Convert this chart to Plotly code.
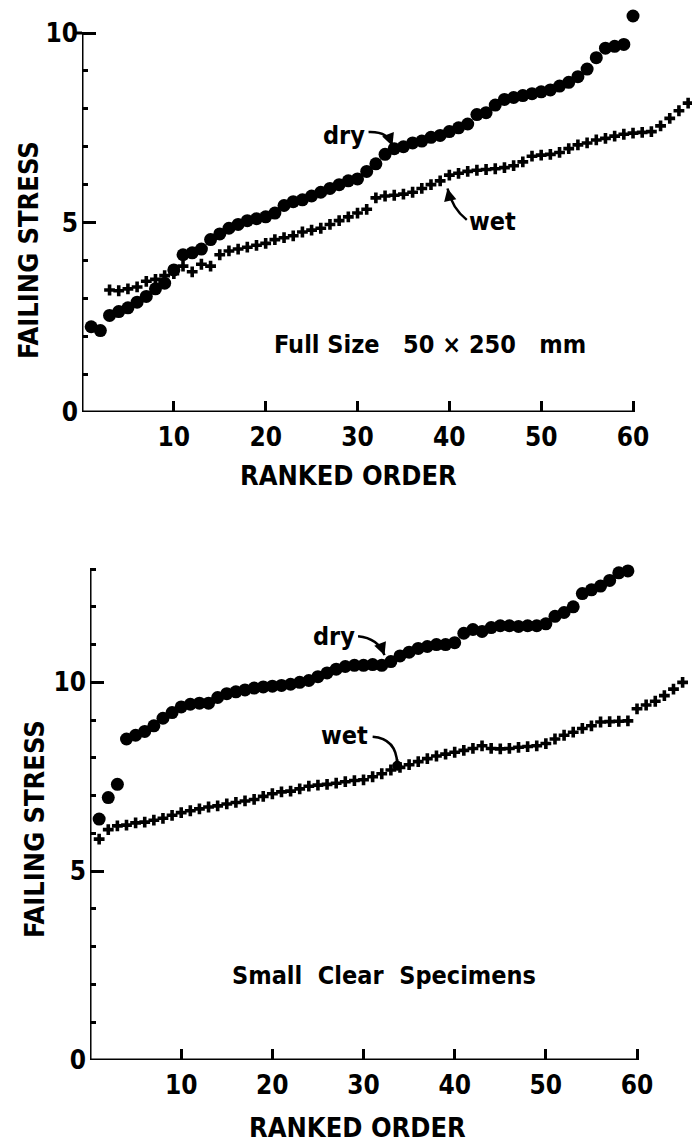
import plotly.graph_objects as go

# ---- Full size 50 x 250 mm specimens ----
rank_full_dry = list(range(1, 61))
stress_full_dry = [
    2.25, 2.15, 2.55, 2.65, 2.75, 2.90, 3.05, 3.25, 3.40, 3.75,
    4.15, 4.20, 4.30, 4.55, 4.70, 4.85, 4.95, 5.05, 5.10, 5.15,
    5.25, 5.45, 5.55, 5.60, 5.70, 5.80, 5.90, 6.00, 6.10, 6.15,
    6.35, 6.55, 6.80, 6.95, 7.00, 7.10, 7.15, 7.25, 7.30, 7.40,
    7.50, 7.60, 7.85, 7.90, 8.10, 8.25, 8.30, 8.35, 8.40, 8.45,
    8.50, 8.60, 8.70, 8.85, 9.05, 9.35, 9.60, 9.65, 9.70, 10.45,
]
rank_full_wet = list(range(3, 67))
stress_full_wet = [
    3.22, 3.20, 3.25, 3.30, 3.45, 3.50, 3.60, 3.65, 3.85, 3.70,
    3.90, 3.85, 4.15, 4.25, 4.30, 4.35, 4.40, 4.45, 4.55, 4.60,
    4.65, 4.75, 4.80, 4.85, 4.95, 5.05, 5.15, 5.25, 5.35, 5.65,
    5.70, 5.72, 5.75, 5.80, 5.90, 6.00, 6.10, 6.25, 6.30, 6.35,
    6.38, 6.40, 6.42, 6.45, 6.50, 6.60, 6.75, 6.78, 6.80, 6.85,
    6.95, 7.05, 7.10, 7.18, 7.22, 7.28, 7.33, 7.36, 7.38, 7.40,
    7.55, 7.75, 7.95, 8.15,
]

# ---- Small clear specimens ----
rank_small_dry = list(range(1, 60))
stress_small_dry = [
    6.38, 6.95, 7.30, 8.50, 8.60, 8.70, 8.85, 9.05, 9.20, 9.35,
    9.42, 9.45, 9.45, 9.60, 9.70, 9.75, 9.80, 9.85, 9.88, 9.90,
    9.92, 9.95, 10.00, 10.05, 10.15, 10.25, 10.35, 10.42, 10.45, 10.45,
    10.47, 10.45, 10.55, 10.70, 10.80, 10.90, 10.95, 11.00, 11.00, 11.05,
    11.30, 11.40, 11.35, 11.45, 11.50, 11.50, 11.48, 11.50, 11.50, 11.55,
    11.75, 11.85, 12.00, 12.35, 12.45, 12.55, 12.70, 12.90, 12.95,
]
rank_small_wet = list(range(1, 66))
stress_small_wet = [
    5.85, 6.10, 6.20, 6.22, 6.28, 6.30, 6.35, 6.40, 6.48, 6.55,
    6.60, 6.65, 6.70, 6.73, 6.78, 6.82, 6.86, 6.90, 6.98, 7.05,
    7.10, 7.12, 7.18, 7.25, 7.28, 7.30, 7.33, 7.37, 7.40, 7.42,
    7.50, 7.58, 7.68, 7.75, 7.82, 7.90, 7.98, 8.05, 8.10, 8.15,
    8.20, 8.25, 8.32, 8.25, 8.24, 8.25, 8.28, 8.30, 8.32, 8.38,
    8.50, 8.60, 8.68, 8.78, 8.85, 8.95, 8.96, 8.97, 8.98, 9.30,
    9.40, 9.50, 9.65, 9.82, 10.00,
]

x_ticks = [10, 20, 30, 40, 50, 60]
y_ticks = [0, 5, 10]
x_axis_end = 60
full_axis_top = 10
small_axis_top = 13

FONT = "DejaVu Sans Condensed"
INK = "black"

fig = go.Figure()


def add_panel(fig, xs_dry, ys_dry, xs_wet, ys_wet, xa, ya):
    fig.add_trace(go.Scatter(
        x=xs_wet, y=ys_wet, mode="markers", name="wet",
        marker=dict(symbol="cross", size=9, color=INK, line=dict(width=0)),
        cliponaxis=False, xaxis=xa, yaxis=ya, showlegend=False,
    ))
    fig.add_trace(go.Scatter(
        x=xs_dry, y=ys_dry, mode="markers", name="dry",
        marker=dict(symbol="circle", size=13, color=INK, line=dict(width=0)),
        cliponaxis=False, xaxis=xa, yaxis=ya, showlegend=False,
    ))


add_panel(fig, rank_full_dry, stress_full_dry, rank_full_wet, stress_full_wet, "x", "y")
add_panel(fig, rank_small_dry, stress_small_dry, rank_small_wet, stress_small_wet, "x2", "y2")

tickfont = dict(family=FONT, size=26, color=INK, weight="bold")

# axis lines are drawn as shapes so that the plotted points may run past them
xbase = dict(
    tickvals=x_ticks, showline=False,
    ticks="inside", ticklen=11, tickwidth=3, tickcolor=INK,
    showgrid=False, zeroline=False, tickfont=tickfont, ticklabelstandoff=7,
    automargin=False, fixedrange=True,
)
ybase = dict(
    tickvals=y_ticks, showline=False,
    ticks="inside", ticklen=14, tickwidth=3, tickcolor=INK,
    showgrid=False, zeroline=False, tickfont=tickfont, ticklabelstandoff=3,
    automargin=False, fixedrange=True,
)
minor = dict(tick0=0, dtick=1, ticks="inside", ticklen=6, tickwidth=3, tickcolor=INK)

fig.update_layout(
    width=692, height=1142,
    margin=dict(l=0, r=0, t=0, b=0, autoexpand=False),
    paper_bgcolor="white", plot_bgcolor="white",
    xaxis=dict(xbase, domain=[0.1185, 0.9997], range=[0, 66.4], anchor="y"),
    yaxis=dict(ybase, domain=[0.6392, 0.9976], range=[0, 10.8], anchor="x",
               minor=dict(minor, tickvals=[1, 2, 3, 4, 6, 7, 8, 9])),
    xaxis2=dict(xbase, domain=[0.1301, 0.9996], range=[0, 66.0], anchor="y2"),
    yaxis2=dict(ybase, domain=[0.0718, 0.5083], range=[0, 13.2], anchor="x2",
                minor=dict(minor, tickvals=[1, 2, 3, 4, 6, 7, 8, 9, 11, 12, 13])),
)

label_font = dict(family=FONT, size=27, color=INK, weight="bold")
note_font = dict(family=FONT, size=25, color=INK, weight="bold")
NB = "\u00a0"

annotations = [
    # axis titles
    dict(text="RANKED ORDER", x=0.503, y=1 - 475 / 1142, xref="paper", yref="paper",
         xanchor="center", yanchor="middle", showarrow=False, font=label_font),
    dict(text="FAILING STRESS", x=29 / 692, y=1 - 250 / 1142, xref="paper", yref="paper",
         xanchor="center", yanchor="middle", textangle=-90, showarrow=False, font=label_font),
    dict(text="RANKED ORDER", x=0.517, y=1 - 1127 / 1142, xref="paper", yref="paper",
         xanchor="center", yanchor="middle", showarrow=False, font=label_font),
    dict(text="FAILING STRESS", x=34 / 692, y=1 - 829 / 1142, xref="paper", yref="paper",
         xanchor="center", yanchor="middle", textangle=-90, showarrow=False, font=label_font),
    # panel notes
    dict(text=f"Full Size{NB}{NB} 50 × 250{NB}{NB} mm", x=37.9, y=1.77, xref="x", yref="y",
         showarrow=False, font=note_font),
    dict(text=f"Small{NB} Clear{NB} Specimens", x=32.3, y=2.23, xref="x2", yref="y2",
         showarrow=False, font=note_font),
    # series labels
    dict(text="dry", x=28.5, y=7.30, xref="x", yref="y", showarrow=False, font=note_font),
    dict(text="wet", x=44.7, y=5.02, xref="x", yref="y", showarrow=False, font=note_font),
    dict(text="dry", x=26.8, y=11.22, xref="x2", yref="y2", showarrow=False, font=note_font),
    dict(text="wet", x=27.9, y=8.59, xref="x2", yref="y2", showarrow=False, font=note_font),
    # arrow heads at the end of the leader curves
    dict(text="", x=33.8, y=7.02, ax=-3, ay=-8, xref="x", yref="y", showarrow=True,
         arrowhead=2, arrowsize=1, arrowwidth=2.5, arrowcolor=INK),
    dict(text="", x=39.8, y=5.90, ax=2, ay=9, xref="x", yref="y", showarrow=True,
         arrowhead=2, arrowsize=1, arrowwidth=2.5, arrowcolor=INK),
    dict(text="", x=32.3, y=10.72, ax=-3, ay=-8, xref="x2", yref="y2", showarrow=True,
         arrowhead=2, arrowsize=1, arrowwidth=2.5, arrowcolor=INK),
    dict(text="", x=33.7, y=7.79, ax=0, ay=-8, xref="x2", yref="y2", showarrow=True,
         arrowhead=6, arrowsize=1, arrowwidth=2.5, arrowcolor=INK),
]
fig.update_layout(annotations=annotations)

axis_line = dict(color=INK, width=3)
leader = dict(color=INK, width=2.5)
shapes = [
    # axis lines
    dict(type="line", xref="x", yref="y", x0=0, x1=x_axis_end, y0=0, y1=0, line=axis_line),
    dict(type="line", xref="x", yref="y", x0=0, x1=0, y0=0, y1=full_axis_top, line=axis_line),
    dict(type="line", xref="x2", yref="y2", x0=0, x1=x_axis_end, y0=0, y1=0, line=axis_line),
    dict(type="line", xref="x2", yref="y2", x0=0, x1=0, y0=0, y1=small_axis_top, line=axis_line),
    # outward stub of the top tick on the upper stress axis
    dict(type="line", xref="paper", yref="y", x0=75 / 692, x1=0.1185, y0=full_axis_top,
         y1=full_axis_top, line=axis_line),
    # leader curves from the series labels to the data
    dict(type="path", xref="x", yref="y", line=leader,
         path="M 31.2,7.39 Q 33.4,7.41 33.8,7.02"),
    dict(type="path", xref="x", yref="y", line=leader,
         path="M 41.9,5.07 Q 40.3,5.38 39.8,5.90"),
    dict(type="path", xref="x2", yref="y2", line=leader,
         path="M 29.4,11.22 Q 31.6,11.17 32.3,10.72"),
    dict(type="path", xref="x2", yref="y2", line=leader,
         path="M 31.0,8.56 Q 33.7,8.51 33.7,7.79"),
]
fig.update_layout(shapes=shapes)

fig.write_html("out.html")
